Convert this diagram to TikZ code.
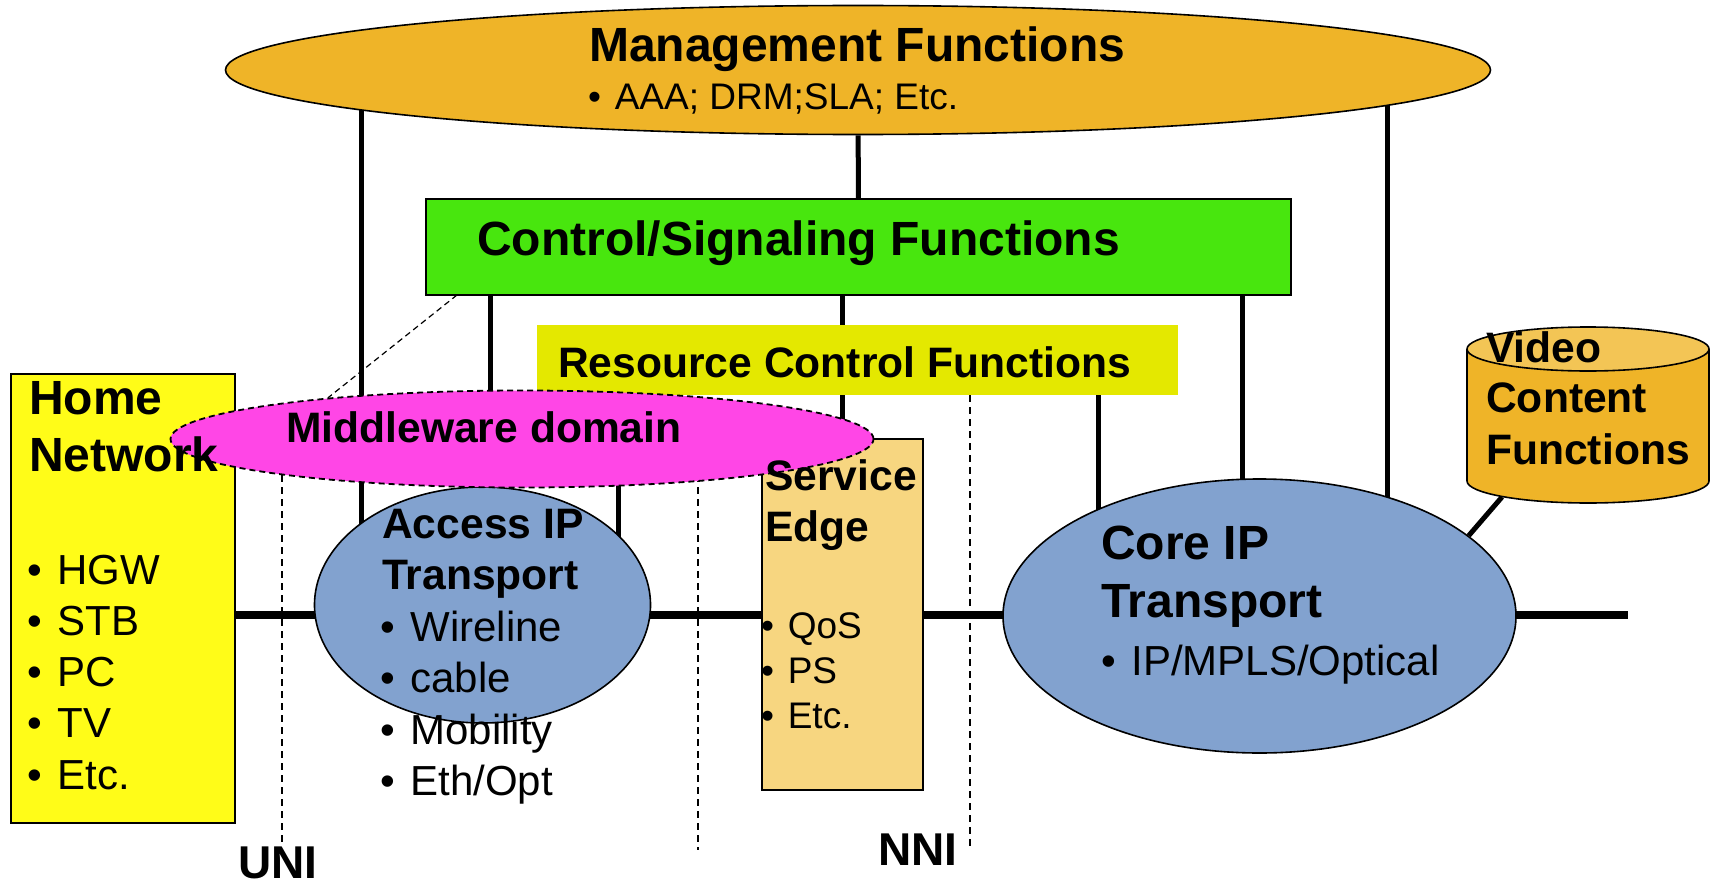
\documentclass[tikz,border=0pt]{standalone}
\usepackage{fontspec}
\setmainfont{Liberation Sans}
\usetikzlibrary{shapes.geometric,backgrounds}

\definecolor{mgmtc}{RGB}{239,180,40}
\definecolor{ctrlc}{RGB}{72,230,14}
\definecolor{resc}{RGB}{228,232,0}
\definecolor{mwc}{RGB}{255,70,230}
\definecolor{homec}{RGB}{255,252,24}
\definecolor{ipc}{RGB}{130,162,207}
\definecolor{sec}{RGB}{247,214,128}
\definecolor{vidbody}{RGB}{239,180,40}
\definecolor{vidtop}{RGB}{243,197,85}

\newcommand\fsz[1]{\fontsize{#1pt}{#1pt}\selectfont}
% bullet followed by a slightly widened gap
\newcommand\bul{•\hspace{0.37em}}

\begin{document}
\begin{tikzpicture}[x=1pt,y=-1pt,
  outline/.style={draw=black, line width=1.6pt},
  ell/.style={ellipse, outline, inner sep=0pt},
  box/.style={rectangle, outline, inner sep=0pt},
  link/.style={line width=5pt},
  bus/.style={line width=8pt},
  guide/.style={line width=1.5pt, dash pattern=on 7pt off 5pt},
  hint/.style={line width=1.2pt, dash pattern=on 6pt off 4pt},
  lbl/.style={inner sep=0pt, anchor=base west},
  head/.style={lbl, font=\bfseries\fsz{42.6}},
  item/.style={lbl, font=\fsz{42}},
]
\useasboundingbox (0,0) rectangle (1711,883);

% ---------- functional blocks ----------
\node[ell, fill=mgmtc, minimum width=1265pt, minimum height=129pt] (mgmt) at (858,70) {};
\node[box, fill=ctrlc, minimum width=865pt, minimum height=96pt] (ctrl) at (858.5,247) {};
\node[rectangle, fill=resc, inner sep=0pt, minimum width=641pt, minimum height=70pt] (res) at (857.5,360) {};
\node[box, fill=homec, minimum width=224pt, minimum height=449pt] (home) at (123,598.5) {};
\node[ell, fill=ipc, minimum width=336pt, minimum height=236pt] (access) at (482.5,605) {};
\node[box, fill=sec, minimum width=161pt, minimum height=351pt] (se) at (842.5,614.5) {};
\node[ell, fill=ipc, minimum width=513pt, minimum height=274pt] (core) at (1259.5,616) {};

% video content store (cylinder)
\filldraw[fill=vidbody, outline] (1588,481) ellipse [x radius=121, y radius=22];
\fill[vidbody] (1467,349) rectangle (1709,481);
\draw[outline] (1467,349) -- (1467,481) (1709,349) -- (1709,481);
\filldraw[fill=vidtop, outline] (1588,349) ellipse [x radius=121, y radius=22];
\coordinate (vidfoot) at (1502,497);

% middleware domain overlaps the blocks below it
\node[ellipse, fill=mwc, draw=black, line width=1.8pt, dash pattern=on 6pt off 4pt,
      inner sep=0pt, minimum width=703pt, minimum height=97pt] (mw) at (522,439) {};

% ---------- reference points ----------
\coordinate (xa) at (361,0);
\coordinate (xb) at (490,0);
\coordinate (xc) at (618,0);
\coordinate (xd) at (842,0);
\coordinate (xe) at (1098,0);
\coordinate (xf) at (1242,0);
\coordinate (xg) at (1387,0);
\coordinate (busend) at (1628,615);
\coordinate (uni) at (282,846);
\coordinate (mid) at (698,850);
\coordinate (nni) at (970,850);
\coordinate (hintstart) at (457,295);

% ---------- connectors (behind the blocks) ----------
\begin{pgfonlayer}{background}
  \draw[bus] (home.east |- busend) -- (busend);
  \draw[link] (mgmt.center -| xa) -- (access.center -| xa);
  \draw[link] (mgmt) -- (ctrl);
  \draw[link] (mgmt.center -| xg) -- (core.center -| xg);
  \draw[link] (ctrl.center -| xb) -- (access.center -| xb);
  \draw[link] (ctrl.south -| xd) -- (res.north -| xd);
  \draw[link] (ctrl.south -| xf) -- (core.center -| xf);
  \draw[link] (res.south -| xd) -- (se.north -| xd);
  \draw[link] (res.center -| xc) -- (access.center -| xc);
  \draw[link] (res.south -| xe) -- (core.center -| xe);
  \draw[link] (core.21) -- (vidfoot);
  \draw[hint] (hintstart) -- (mw.168);
  \draw[guide] (mw.center -| uni) -- (uni);
  \draw[guide] (mw.center -| mid) -- (mid);
  \draw[guide] (res.south -| nni) -- (nni);
\end{pgfonlayer}

% ---------- texts ----------
\node[lbl, font=\bfseries\fsz{48}] (tmgmt) at (589,62) {Management Functions};
\node[lbl, font=\fsz{37}] (tmgmt1) at (588,109) {\bul AAA; DRM;SLA; Etc.};
\node[lbl, font=\bfseries\fsz{48}] (tctrl) at (477,255) {Control/Signaling Functions};
\node[head] (tres) at (558,377) {Resource Control Functions};
\node[head] (tmw) at (286,442) {Middleware domain};

\node[lbl, font=\bfseries\fsz{48}] (thome1) at (29,414) {Home};
\node[lbl, font=\bfseries\fsz{48}] (thome2) at (29,471) {Network};
\node[lbl, font=\fsz{42}] (th1) at (27,584) {\bul HGW};
\node[lbl, font=\fsz{42}] (th2) at (27,635) {\bul STB};
\node[lbl, font=\fsz{42}] (th3) at (27,686) {\bul PC};
\node[lbl, font=\fsz{42}] (th4) at (27,737) {\bul TV};
\node[lbl, font=\fsz{42}] (th5) at (27,789) {\bul Etc.};

\node[head] (tacc1) at (382,538) {Access IP};
\node[head] (tacc2) at (382,589) {Transport};
\node[item] (ta1) at (380,641) {\bul Wireline};
\node[item] (ta2) at (380,692) {\bul cable};
\node[item] (ta3) at (380,744) {\bul Mobility};
\node[item] (ta4) at (380,795) {\bul Eth/Opt};

\node[head] (tse1) at (765,490) {Service};
\node[head] (tse2) at (765,541) {Edge};
\node[lbl, font=\fsz{37}] (ts1) at (761,638) {\bul QoS};
\node[lbl, font=\fsz{37}] (ts2) at (761,683) {\bul PS};
\node[lbl, font=\fsz{37}] (ts3) at (761,728) {\bul Etc.};

\node[lbl, font=\bfseries\fsz{48}] (tcore1) at (1101,559) {Core IP};
\node[lbl, font=\bfseries\fsz{48}] (tcore2) at (1101,617) {Transport};
\node[item] (tc1) at (1101,675) {\bul IP/MPLS/Optical};

\node[head] (tvid1) at (1486,362) {Video};
\node[head] (tvid2) at (1486,412) {Content};
\node[head] (tvid3) at (1486,464) {Functions};

\node[lbl, font=\bfseries\fsz{46}] (tuni) at (238,878) {UNI};
\node[lbl, font=\bfseries\fsz{46}] (tnni) at (878,865) {NNI};
\end{tikzpicture}
\end{document}
